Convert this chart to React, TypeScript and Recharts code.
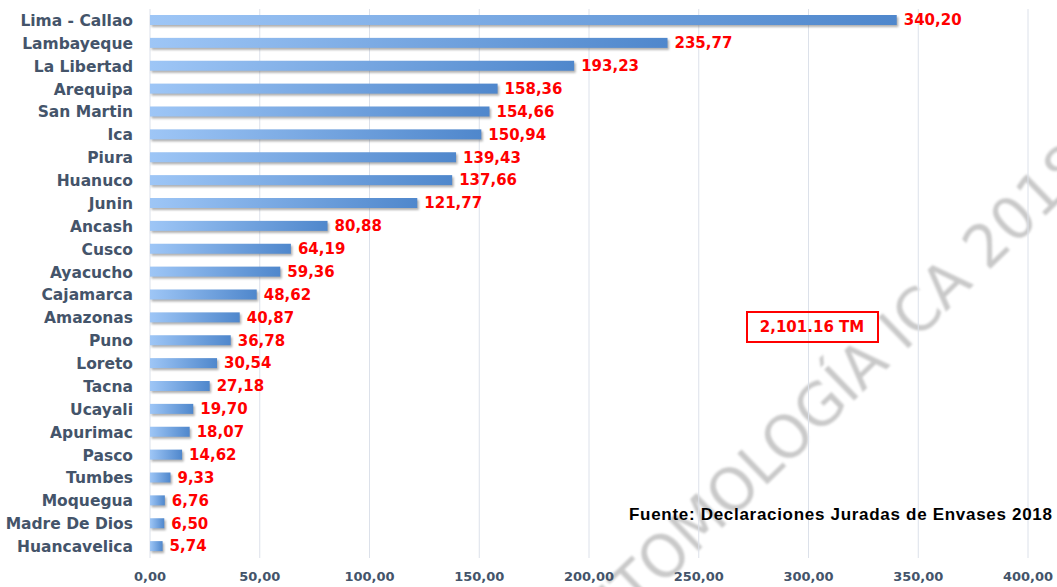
import React from 'react';
import { BarChart, Bar, XAxis, YAxis, CartesianGrid, LabelList } from 'recharts';

const regions = [
  'Lima - Callao', 'Lambayeque', 'La Libertad', 'Arequipa', 'San Martin', 'Ica',
  'Piura', 'Huanuco', 'Junin', 'Ancash', 'Cusco', 'Ayacucho', 'Cajamarca',
  'Amazonas', 'Puno', 'Loreto', 'Tacna', 'Ucayali', 'Apurimac', 'Pasco',
  'Tumbes', 'Moquegua', 'Madre De Dios', 'Huancavelica',
];
const values = [
  340.2, 235.77, 193.23, 158.36, 154.66, 150.94, 139.43, 137.66, 121.77, 80.88,
  64.19, 59.36, 48.62, 40.87, 36.78, 30.54, 27.18, 19.7, 18.07, 14.62, 9.33,
  6.76, 6.5, 5.74,
];
const xTicks = [0, 50, 100, 150, 200, 250, 300, 350, 400];
const totalLabel = '2,101.16 TM';
const sourceNote = 'Fuente: Declaraciones Juradas de Envases 2018';
const watermark = 'ENTOMOLOGÍA ICA 2018';

const data = regions.map((name, i) => ({ name, value: values[i] }));
const fmt = (v: number) => Number(v).toFixed(2).replace('.', ',');

const W = 1057;
const H = 587;

const BarShape = (props: any) => {
  const { x, y, width, height } = props;
  if (!width || width <= 0) return null;
  return (
    <g>
      <rect x={x + 1.5} y={y + 2} width={width} height={height} fill="#6e6e6e" opacity={0.55} filter="url(#blurShadow)" />
      <rect x={x} y={y} width={width} height={height} fill="url(#barGrad)" />
    </g>
  );
};

export default function App() {
  return (
    <div style={{ position: 'absolute', left: 0, top: 0, width: W, height: H, background: '#fff' }}>
      <svg width={W} height={H} style={{ position: 'absolute', left: 0, top: 0 }}>
        <defs>
          <filter id="wmBlur" x="-5%" y="-5%" width="110%" height="110%">
            <feGaussianBlur stdDeviation="0.8" />
          </filter>
        </defs>
        <text
          x={0}
          y={0}
          transform="translate(836,418) rotate(-44)"
          textAnchor="middle"
          fontFamily="DejaVu Sans, sans-serif"
          fontSize={58}
          fill="#c9c9c9"
          filter="url(#wmBlur)"
        >
          {watermark}
        </text>
      </svg>
      <div style={{ position: 'absolute', left: 0, top: 0 }}>
        <BarChart
          width={W}
          height={H}
          data={data}
          layout="vertical"
          margin={{ top: 9, right: 29, bottom: 0, left: 0 }}
          barSize={10}
        >
          <defs>
            <linearGradient id="barGrad" x1="0" y1="0" x2="1" y2="0">
              <stop offset="0%" stopColor="#9EC6F6" />
              <stop offset="100%" stopColor="#4F87CC" />
            </linearGradient>
            <filter id="blurShadow" x="-10%" y="-50%" width="120%" height="200%">
              <feGaussianBlur stdDeviation="1" />
            </filter>
          </defs>
          <CartesianGrid horizontal={false} stroke="#DCE1EA" strokeWidth={1} />
          <XAxis
            type="number"
            domain={[0, 400]}
            ticks={xTicks}
            tickFormatter={fmt}
            axisLine={false}
            tickLine={false}
            height={29}
            tickMargin={8}
            tick={{ fill: '#44546A', fontSize: 13, fontWeight: 'bold', fontFamily: 'DejaVu Sans, sans-serif' }}
            interval={0}
          />
          <YAxis
            type="category"
            dataKey="name"
            width={150}
            axisLine={false}
            tickLine={false}
            tickSize={0}
            tickMargin={17}
            interval={0}
            tick={{ fill: '#44546A', fontSize: 15.5, fontWeight: 'bold', fontFamily: 'DejaVu Sans, sans-serif' }}
          />
          <Bar dataKey="value" shape={BarShape} isAnimationActive={false}>
            <LabelList
              dataKey="value"
              position="right"
              offset={7}
              formatter={(v: any) => fmt(v)}
              fill="#FF0000"
              style={{ fontSize: 15, fontWeight: 'bold', fontFamily: 'DejaVu Sans, sans-serif', fill: '#FF0000' }}
            />
          </Bar>
        </BarChart>
      </div>
      <svg width={W} height={H} style={{ position: 'absolute', left: 0, top: 0, pointerEvents: 'none' }}>
        <rect x={747} y={312} width={131} height={30} fill="none" stroke="#FF0000" strokeWidth={2} />
        <text
          x={812}
          y={332}
          textAnchor="middle"
          fontFamily="DejaVu Sans, sans-serif"
          fontWeight="bold"
          fontSize={15}
          fill="#FF0000"
        >
          {totalLabel}
        </text>
        <text
          x={629}
          y={520}
          fontFamily="Liberation Sans, Arial, sans-serif"
          fontWeight="bold"
          fontSize={17}
          letterSpacing={0.7}
          fill="#000"
        >
          {sourceNote}
        </text>
      </svg>
    </div>
  );
}
